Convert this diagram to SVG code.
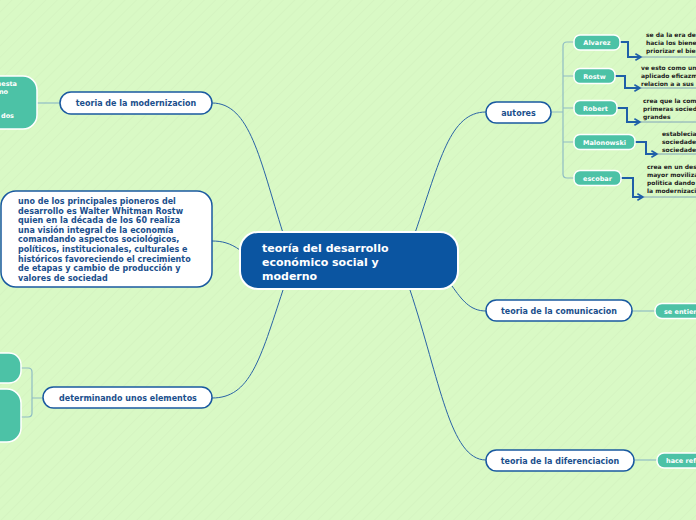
<svg xmlns="http://www.w3.org/2000/svg" width="696" height="520" viewBox="0 0 696 520">
<defs>
<pattern id="bg" width="8" height="8" patternUnits="userSpaceOnUse" patternTransform="rotate(45)">
<rect width="8" height="8" fill="#d9f9c5"/>
<line x1="0" y1="0" x2="0" y2="8" stroke="#d1f0bd" stroke-width="1"/>
</pattern>
<marker id="ah" viewBox="0 0 10 10" refX="8" refY="5" markerWidth="4" markerHeight="4" orient="auto">
<path d="M1 1 L8 5 L1 9" fill="none" stroke="#1f5fa8" stroke-width="2"/>
</marker>
<style>
.main{fill:#0b55a1;stroke:#ffffff;stroke-width:2}
.mt{font-family:"DejaVu Sans",sans-serif;font-weight:bold;font-size:11px;fill:#ffffff}
.sub{fill:#ffffff;stroke:#1a5aa0;stroke-width:1.5}
.st{font-family:"DejaVu Sans",sans-serif;font-weight:bold;font-size:8px;fill:#1b4f8c}
.tl{fill:#4cc2a6;stroke:#ffffff;stroke-width:1.5}
.tt{font-family:"DejaVu Sans",sans-serif;font-weight:bold;font-size:6.5px;fill:#ffffff}
.dt{font-family:"DejaVu Sans",sans-serif;font-weight:bold;font-size:6px;fill:#222222}
.c{fill:none;stroke:#2a63a6;stroke-width:1}
.lc{fill:none;stroke:#8fbcc4;stroke-width:1.2}
.ar{fill:none;stroke:#1f5fa8;stroke-width:2;marker-end:url(#ah)}
.ul{fill:none;stroke:#6a8fb8;stroke-width:0.8}
</style>
</defs>
<rect width="696" height="520" fill="url(#bg)"/>

<g id="connectors">
<path class="c" d="M415 233 C440 160 450 112 486 112"/>
<path class="c" d="M452 286 C462 300 470 311 486 311"/>
<path class="c" d="M410 290 C440 380 450 460 486 460"/>
<path class="c" d="M283 233 C260 160 250 103 212 103"/>
<path class="c" d="M240 250 C230 243 222 241 212 241"/>
<path class="c" d="M283 290 C260 360 250 398 212 398"/>
<path class="lc" d="M37 103 L60 103"/>
<path class="lc" d="M43 398 L32 398 M21 368 L28 368 Q32 368 32 372 L32 413 Q32 417 28 417 L21 417"/>
<path class="lc" d="M551 112 L563 112 M574 42 L567 42 Q563 42 563 46 L563 174 Q563 178 567 178 L574 178 M563 76 L574 76 M563 108 L574 108 M563 142 L574 142"/>
<path class="lc" d="M632 311 L655 311"/>
<path class="lc" d="M634 460 L657 460"/>
<path class="ar" d="M620 42 L628 42 L628 57 L641 57"/>
<path class="ar" d="M615 76 L625 76 L625 88 L640 88"/>
<path class="ar" d="M617 108 L627 108 L627 122 L640 122"/>
<path class="ar" d="M635 142 L646 142 L646 154 L657 154"/>
<path class="ar" d="M621 178 L633 178 L633 197 L643 197"/>
<path class="ul" d="M641 57 L696 57 M640 88 L696 88 M640 122 L696 122 M657 154 L696 154 M643 197 L696 197"/>
</g>

<g id="center">
<rect class="main" x="240" y="232" width="218" height="57" rx="18"/>
<text class="mt" x="262" y="252">teoría del desarrollo</text>
<text class="mt" x="262" y="266">económico social y</text>
<text class="mt" x="262" y="280">moderno</text>
</g>

<g id="modernizacion">
<rect class="sub" x="60" y="92" width="152" height="22" rx="11"/>
<text class="st" x="136" y="106" text-anchor="middle">teoria de la modernizacion</text>
</g>
<g id="modernizacion-child">
<rect class="tl" x="-20" y="76" width="57" height="53" rx="14"/>
<text class="tt" x="17" y="86" text-anchor="end">uesta</text>
<text class="tt" x="8" y="94" text-anchor="end">no</text>
<text class="tt" x="14" y="118" text-anchor="end">dos</text>
</g>

<g id="pioneros">
<rect class="sub" x="1" y="191" width="211" height="96" rx="15"/>
<text class="st" x="18" y="204">uno de los principales pioneros del</text>
<text class="st" x="18" y="213.6">desarrollo es Walter Whitman Rostw</text>
<text class="st" x="18" y="223.2">quien en la década de los 60 realiza</text>
<text class="st" x="18" y="232.8">una visión integral de la economía</text>
<text class="st" x="18" y="242.4">comandando aspectos sociológicos,</text>
<text class="st" x="18" y="252">políticos, institucionales, culturales e</text>
<text class="st" x="18" y="261.6">históricos favoreciendo el crecimiento</text>
<text class="st" x="18" y="271.2">de etapas y cambio de producción y</text>
<text class="st" x="18" y="280.8">valores de sociedad</text>
</g>

<g id="determinando">
<rect class="sub" x="43" y="387" width="169" height="21" rx="10.5"/>
<text class="st" x="128" y="400.5" text-anchor="middle">determinando unos elementos</text>
</g>
<g id="det-child1"><rect class="tl" x="-20" y="353" width="41" height="30" rx="12"/></g>
<g id="det-child2"><rect class="tl" x="-20" y="389" width="41" height="53" rx="14"/></g>

<g id="autores">
<rect class="sub" x="486" y="102" width="65" height="21" rx="10.5"/>
<text class="st" x="518.5" y="115.5" text-anchor="middle">autores</text>
</g>
<g id="alvarez">
<rect class="tl" x="574" y="35" width="46" height="15" rx="6"/>
<text class="tt" x="597" y="44.5" text-anchor="middle">Alvarez</text>
<text class="dt" x="646" y="37">se da la era del</text>
<text class="dt" x="646" y="45">hacia los bienes</text>
<text class="dt" x="646" y="53">priorizar el bien</text>
</g>
<g id="rostw">
<rect class="tl" x="574" y="68.5" width="41" height="15" rx="6"/>
<text class="tt" x="594.5" y="78.5" text-anchor="middle">Rostw</text>
<text class="dt" x="641" y="70">ve esto como un</text>
<text class="dt" x="641" y="78">aplicado eficazm</text>
<text class="dt" x="641" y="86">relacion a a sus</text>
</g>
<g id="robert">
<rect class="tl" x="574" y="100.5" width="43" height="15" rx="6"/>
<text class="tt" x="595.5" y="110.5" text-anchor="middle">Robert</text>
<text class="dt" x="643" y="103">crea que la com</text>
<text class="dt" x="643" y="111">primeras socied</text>
<text class="dt" x="643" y="119">grandes</text>
</g>
<g id="malonowski">
<rect class="tl" x="574" y="134.5" width="61" height="15" rx="6"/>
<text class="tt" x="604.5" y="144.5" text-anchor="middle">Malonowski</text>
<text class="dt" x="662" y="136">establecia</text>
<text class="dt" x="662" y="144">sociedades</text>
<text class="dt" x="662" y="152">sociedades</text>
</g>
<g id="escobar">
<rect class="tl" x="574" y="170.5" width="47" height="15" rx="6"/>
<text class="tt" x="597.5" y="180.5" text-anchor="middle">escobar</text>
<text class="dt" x="647" y="169">crea en un des</text>
<text class="dt" x="647" y="177">mayor moviliza</text>
<text class="dt" x="647" y="185">politica dando</text>
<text class="dt" x="647" y="193">la modernizaci</text>
</g>

<g id="comunicacion">
<rect class="sub" x="486" y="300" width="146" height="21" rx="10.5"/>
<text class="st" x="559" y="313.5" text-anchor="middle">teoria de la comunicacion</text>
</g>
<g id="comunicacion-child">
<rect class="tl" x="655" y="303.5" width="50" height="15" rx="7"/>
<text class="tt" x="664" y="313.5">se entien</text>
</g>

<g id="diferenciacion">
<rect class="sub" x="486" y="450" width="148" height="21" rx="10.5"/>
<text class="st" x="560" y="463.5" text-anchor="middle">teoria de la diferenciacion</text>
</g>
<g id="diferenciacion-child">
<rect class="tl" x="657" y="453" width="50" height="15" rx="7"/>
<text class="tt" x="666" y="463">hace ref</text>
</g>
</svg>
